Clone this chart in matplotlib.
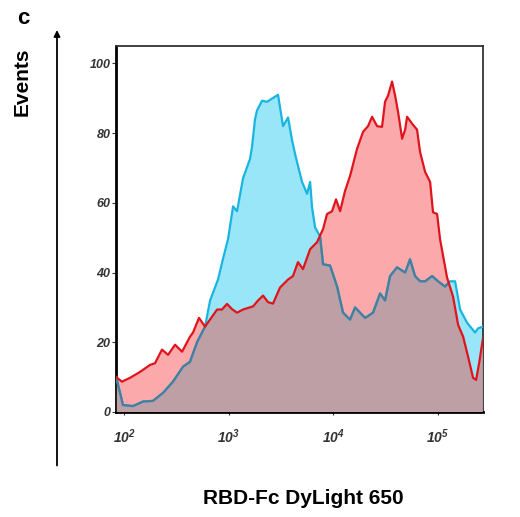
import numpy as np
import matplotlib
matplotlib.use("Agg")
import matplotlib.pyplot as plt

plt.rcParams['font.family'] = ['Liberation Sans', 'DejaVu Sans']
plt.rcParams['mathtext.fontset'] = 'custom'
plt.rcParams['mathtext.it'] = 'Liberation Sans:italic:bold'
plt.rcParams['mathtext.rm'] = 'Liberation Sans:italic:bold'
plt.rcParams['mathtext.default'] = 'it'

# control (unstained) histogram: log10 fluorescence vs events
ctrl_log = [1.922, 1.987, 2.083, 2.178, 2.274, 2.370, 2.465, 2.561, 2.628, 2.695,
            2.772, 2.820, 2.896, 2.944, 2.992, 3.040, 3.078, 3.135, 3.202, 3.221,
            3.250, 3.269, 3.317, 3.365, 3.470, 3.518, 3.566, 3.604, 3.633, 3.700,
            3.748, 3.777, 3.796, 3.824, 3.872, 3.901, 3.968, 4.035, 4.092, 4.159,
            4.207, 4.303, 4.379, 4.446, 4.494, 4.542, 4.609, 4.686, 4.733, 4.781,
            4.829, 4.877, 4.944, 5.001, 5.068, 5.116, 5.164, 5.212, 5.279, 5.355,
            5.384, 5.430]
ctrl_events = [10, 2, 1.7, 3, 3.2, 5.5, 8.7, 13, 14.4, 20,
               24.5, 32, 38, 44, 49.6, 59, 57.6, 67, 72.6, 76,
               84, 86.5, 89.3, 89, 91, 82, 84.5, 78, 74, 66,
               62.6, 66, 58.6, 53, 50.4, 42.4, 42, 36, 28.5, 26.5,
               30, 27, 28.5, 34, 32, 39, 41.5, 40, 43.8, 39,
               37.5, 37.5, 39, 37.5, 36, 37.5, 37.5, 29.4, 25.6, 22.8,
               24, 24.5]

# RBD-Fc DyLight 650 stained histogram
rbd_log = [1.922, 1.977, 2.054, 2.150, 2.245, 2.293, 2.360, 2.418, 2.485, 2.552,
           2.628, 2.657, 2.714, 2.772, 2.887, 2.934, 2.982, 3.030, 3.078, 3.135,
           3.231, 3.279, 3.327, 3.375, 3.422, 3.489, 3.566, 3.613, 3.661, 3.709,
           3.777, 3.843, 3.901, 3.939, 3.987, 4.025, 4.064, 4.111, 4.159, 4.226,
           4.284, 4.331, 4.370, 4.418, 4.465, 4.494, 4.523, 4.561, 4.590, 4.619,
           4.657, 4.686, 4.705, 4.753, 4.800, 4.829, 4.877, 4.925, 4.953, 4.992,
           5.020, 5.087, 5.145, 5.193, 5.241, 5.288, 5.336, 5.365, 5.394, 5.430]
rbd_events = [10, 8.7, 9.8, 11.5, 13.5, 14, 17.9, 16.4, 19.3, 17.3,
              21.6, 22.8, 27, 24.5, 29.4, 29.4, 31, 29.5, 28.5, 29.4,
              30.3, 32, 33.4, 31.5, 31.1, 35.7, 38, 39, 43, 41,
              46.7, 48.7, 52.5, 56.8, 57.6, 61, 57.6, 63.4, 67.7, 75.5,
              80.4, 82, 84.7, 82, 81.8, 89, 90.8, 94.8, 90.8, 86,
              78.4, 81, 84.7, 82.7, 81, 74.6, 68.9, 66, 57.3, 56.8,
              49.6, 38.6, 33, 25, 21.6, 15.9, 9.8, 9.2, 14, 21]

y_ticks = [0, 20, 40, 60, 80, 100]
x_decades = [2, 3, 4, 5]

cyan_fill, cyan_line = '#98e6f8', '#1ab4e0'
red_fill, red_line = '#fba9aa', '#e0141c'
overlap_fill, overlap_line = '#bd9fa5', '#4a7c9c'

fig = plt.figure(figsize=(5.2, 5.17), dpi=100)

# outer arrows and labels, drawn in pixel coordinates
bg = fig.add_axes([0, 0, 1, 1])
bg.set_xlim(0, 520)
bg.set_ylim(517, 0)
bg.axis('off')
arrow = dict(arrowstyle='-|>', lw=1.3, color='black', mutation_scale=9, shrinkA=0, shrinkB=0)
bg.annotate('', xy=(57, 30), xytext=(57, 465.5), arrowprops=arrow)
bg.annotate('', xy=(522, 465.5), xytext=(56.4, 465.5), arrowprops=arrow)
bg.text(23, 18, 'c', fontsize=16, fontweight='bold', ha='center', va='center')
bg.text(22, 82, 'Events', fontsize=15, fontweight='bold', rotation=90, ha='center', va='center')
bg.text(303, 498, 'RBD-Fc DyLight 650', fontsize=15, fontweight='bold', ha='center', va='center')

ax = fig.add_axes([116 / 520, 1 - 412 / 517, 367 / 520, 366 / 517])
cx = 10 ** np.array(ctrl_log)
rx = 10 ** np.array(rbd_log)

blue = ax.fill_between(cx, ctrl_events, 0, color=cyan_fill, lw=0, zorder=1)
red = ax.fill_between(rx, rbd_events, 0, color=red_fill, lw=0, zorder=2)
both = ax.fill_between(rx, rbd_events, 0, color=overlap_fill, lw=0, zorder=3)
both.set_clip_path(blue.get_paths()[0], ax.transData)

ax.plot(cx, ctrl_events, color=cyan_line, lw=1.6, zorder=4)
under, = ax.plot(cx, ctrl_events, color=overlap_line, lw=1.6, zorder=5)
under.set_clip_path(red.get_paths()[0], ax.transData)
ax.plot(rx, rbd_events, color=red_line, lw=1.6, zorder=6)

ax.set_xscale('log')
ax.set_xlim(10 ** 1.92, 10 ** 5.431)
ax.set_ylim(0, 105)
ax.set_xticks([10.0 ** d for d in x_decades])
ax.set_xticklabels([r'$10^{%d}$' % d for d in x_decades])
ax.xaxis.set_minor_locator(matplotlib.ticker.NullLocator())
ax.set_yticks(y_ticks)
ax.set_yticklabels([str(v) for v in y_ticks], fontsize=9, fontstyle='italic', fontweight='bold')
ax.tick_params(axis='y', length=3, width=0.8, pad=1, colors='#333333')
ax.tick_params(axis='x', length=2, width=0.8, pad=9, labelsize=10, colors='#333333')

for side in ['left', 'bottom']:
    ax.spines[side].set_linewidth(2)
    ax.spines[side].set_color('black')
for side in ['top', 'right']:
    ax.spines[side].set_linewidth(1.3)
    ax.spines[side].set_color('#333333')

fig.savefig('out.png', dpi=100)
